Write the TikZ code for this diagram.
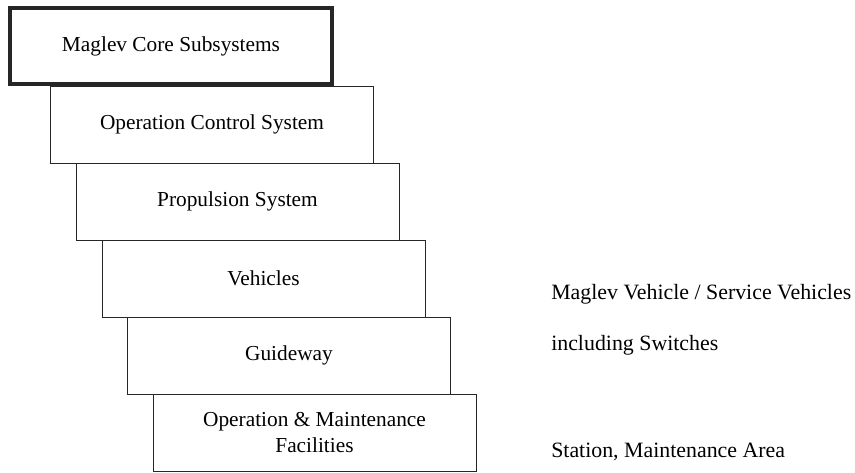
\documentclass[tikz,border=0pt]{standalone}
\usepackage{fontspec}
\setmainfont{Liberation Serif}
\begin{document}
\begin{tikzpicture}[x=0.75pt,y=-0.75pt,
  layer/.style={draw=black!85, line width=0.75pt, rectangle, inner sep=0pt,
    minimum width=242.25pt, minimum height=57.75pt, align=center,
    font=\fontsize{16}{19}\selectfont},
  headbox/.style={layer, line width=2.6pt, minimum width=241.5pt, minimum height=57pt},
  note/.style={anchor=west, inner sep=0pt, font=\fontsize{16.4}{19}\selectfont}]
  \useasboundingbox (0,0) rectangle (855,472);
  % stacked subsystem layers
  \node[headbox] (core) at (171,46) {Maglev Core Subsystems};
  \node[layer] (ocs) at (212,124.5) {Operation Control System};
  \node[layer] (prop) at (237.5,201.5) {Propulsion System};
  \node[layer] (veh) at (263.5,278.5) {Vehicles};
  \node[layer] (guide) at (289,355.5) {Guideway};
  \node[layer] (omf) at (314.5,432.5) {Operation \& Maintenance\\Facilities};
  % side notes
  \node[note] (vehnote) at (551,294.5) {Maglev Vehicle / Service Vehicles};
  \node[note] (guidenote) at (551,345.5) {including Switches};
  \node[note] (omfnote) at (551,451.5) {Station, Maintenance Area};
\end{tikzpicture}
\end{document}
